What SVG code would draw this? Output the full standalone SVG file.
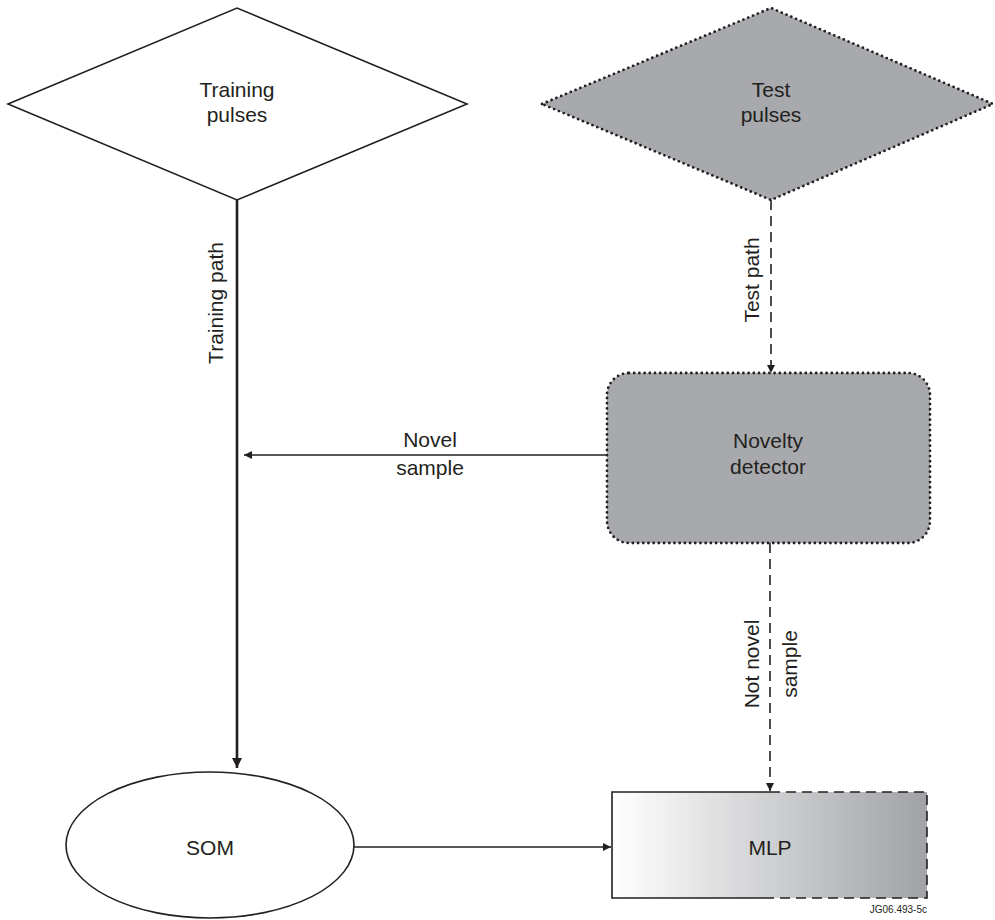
<svg xmlns="http://www.w3.org/2000/svg" width="995" height="920" viewBox="0 0 995 920">
<style>
text{font-family:"Liberation Sans",Arial,sans-serif;fill:#231f20;font-size:21px;text-anchor:middle}
.solid{fill:none;stroke:#231f20;stroke-width:1.6}
.dotted{stroke:#231f20;stroke-width:2.8;stroke-dasharray:0 5.2;stroke-linecap:round}
.dash{fill:none;stroke:#231f20;stroke-width:1.6;stroke-dasharray:10 6}
.small{font-size:10px}
</style>
<defs>
<marker id="ah" viewBox="0 0 10 10" refX="10" refY="5" markerWidth="10" markerHeight="8" markerUnits="userSpaceOnUse" orient="auto">
<path d="M0,0 L10,5 L0,10 Z" fill="#231f20"/>
</marker>
<marker id="ahb" viewBox="0 0 10 10" refX="10" refY="5" markerWidth="12" markerHeight="10" markerUnits="userSpaceOnUse" orient="auto">
<path d="M0,0 L10,5 L0,10 Z" fill="#231f20"/>
</marker>
<linearGradient id="mlpg" x1="0" y1="0" x2="1" y2="0">
<stop offset="0" stop-color="#ffffff"/>
<stop offset="1" stop-color="#a0a2a5"/>
</linearGradient>
</defs>

<g id="training-pulses">
<polygon points="8,104 237,8 467,104 237,200" fill="#fff" stroke="#231f20" stroke-width="1.6"/>
<text x="237" y="97">Training</text>
<text x="237" y="122">pulses</text>
</g>

<g id="test-pulses">
<polygon points="542,104 771,8 993,104 771,200" fill="#a7a9ac" class="dotted"/>
<text x="771" y="97">Test</text>
<text x="771" y="122">pulses</text>
</g>

<g id="novelty-detector">
<rect x="607" y="373" width="323" height="170" rx="22" ry="22" fill="#a7a9ac" class="dotted"/>
<text x="768" y="448">Novelty</text>
<text x="768" y="474">detector</text>
</g>

<g id="som">
<ellipse cx="210" cy="845" rx="144" ry="73" fill="#fff" stroke="#231f20" stroke-width="1.6"/>
<text x="210" y="855">SOM</text>
</g>

<g id="mlp">
<rect x="612" y="792" width="315" height="106" fill="url(#mlpg)"/>
<path d="M770,792 L612,792 L612,898 L770,898" class="solid"/>
<path d="M770,792 L927,792 L927,898 L770,898" class="dash"/>
<text x="770" y="855">MLP</text>
<text x="927" y="913" class="small" style="text-anchor:end">JG06.493-5c</text>
</g>

<g id="connectors">
<line x1="237" y1="200" x2="237" y2="768" stroke="#231f20" stroke-width="2.6" marker-end="url(#ahb)"/>
<line x1="771" y1="200" x2="771" y2="373" class="dash" marker-end="url(#ah)"/>
<line x1="607" y1="455" x2="244" y2="455" class="solid" marker-end="url(#ah)"/>
<line x1="770" y1="543" x2="770" y2="791" class="dash" marker-end="url(#ah)"/>
<line x1="354" y1="847" x2="611" y2="847" class="solid" marker-end="url(#ah)"/>
<text transform="translate(223,303) rotate(-90)">Training path</text>
<text transform="translate(759,280) rotate(-90)">Test path</text>
<text x="430" y="447">Novel</text>
<text x="430" y="475">sample</text>
<text transform="translate(759,664) rotate(-90)">Not novel</text>
<text transform="translate(797,664) rotate(-90)">sample</text>
</g>
</svg>
